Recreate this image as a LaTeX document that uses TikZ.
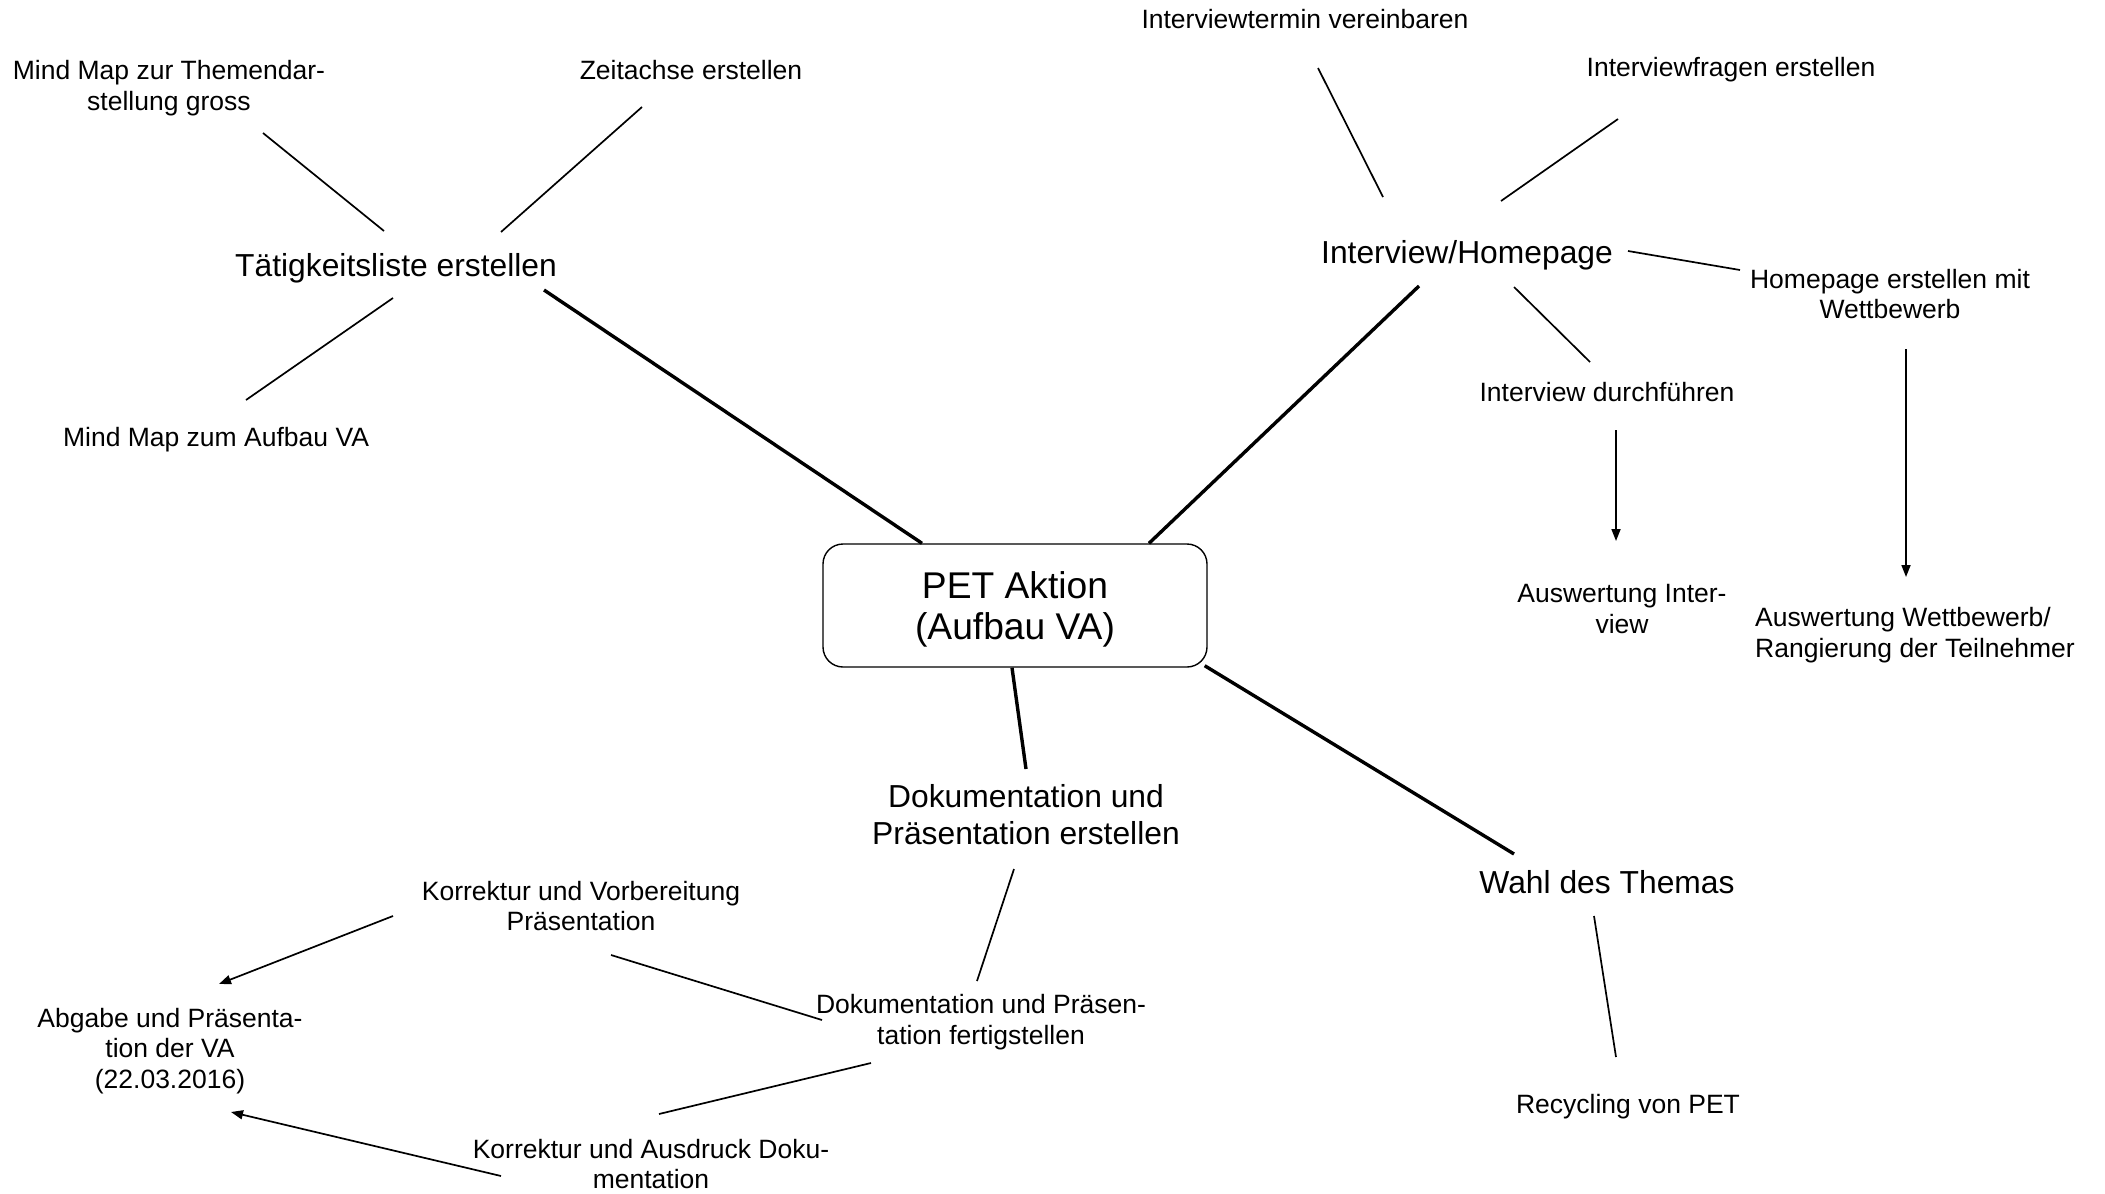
\documentclass[tikz,border=0pt]{standalone}
\usepackage{fontspec}
\setmainfont{Liberation Sans}
\usetikzlibrary{arrows.meta}
\begin{document}
\begin{tikzpicture}[x=0.5pt,y=-0.5pt,
  lbl/.style={align=center,font=\fontsize{13.25}{15.2}\selectfont,inner sep=0pt},
  mid/.style={align=center,font=\fontsize{15.9}{18.4}\selectfont,inner sep=0pt},
  twig/.style={line width=0.85pt},
  branch/.style={line width=1.7pt},
  arr/.style={twig,-{Triangle[length=6pt,width=4.5pt]}}
]
\useasboundingbox (0,0) rectangle (2105,1194);

% centre
\node[draw,rounded corners=10pt,line width=0.7pt,minimum width=192pt,minimum height=61.5pt,
      text depth=0pt,align=center,font=\fontsize{18.6}{20.3}\selectfont] (pet) at (1015,605.5) {PET Aktion\\(Aufbau VA)};

% main branches
\node[mid] (tat) at (396,268) {Tätigkeitsliste erstellen};
\node[mid] (ih) at (1467,255) {Interview/Homepage};
\node[mid] (dok) at (1026,815) {Dokumentation und\\Präsentation erstellen};
\node[mid] (wahl) at (1607,882) {Wahl des Themas};

% leaves
\node[lbl] (mm1) at (169,88) {Mind Map zur Themendar-\\stellung gross};
\node[lbl] (zeit) at (691,70) {Zeitachse erstellen};
\node[lbl] (mm2) at (216,440) {Mind Map zum Aufbau VA};
\node[lbl] (itv) at (1305,19) {Interviewtermin vereinbaren};
\node[lbl] (ifr) at (1731,70) {Interviewfragen erstellen};
\node[lbl] (hpe) at (1890,294) {Homepage erstellen mit\\Wettbewerb};
\node[lbl] (idf) at (1607,392) {Interview durchführen};
\node[lbl] (ai) at (1622,609) {Auswertung Inter-\\view};
\node[lbl,align=left] (aw) at (1915,635) {Auswertung Wettbewerb/\\Rangierung der Teilnehmer};
\node[lbl] (rec) at (1628,1107) {Recycling von PET};
\node[lbl] (kvp) at (581,906) {Korrektur und Vorbereitung\\Präsentation};
\node[lbl] (abg) at (170,1051) {Abgabe und Präsenta-\\tion der VA\\(22.03.2016)};
\node[lbl] (dpf) at (981,1022) {Dokumentation und Präsen-\\tation fertigstellen};
\node[lbl] (kad) at (651,1164) {Korrektur und Ausdruck Doku-\\mentation};

% thick branches
\draw[branch] ([shift={(148,22)}]tat.center) -- ([shift={(-93,0)}]pet.north);
\draw[branch] ([shift={(-48,31)}]ih.center) -- ([shift={(134,0)}]pet.north);
\draw[branch] ([shift={(-3,0)}]pet.south) -- ([shift={(0,-46)}]dok.center);
\draw[branch] ([shift={(-3,-2)}]pet.south east) -- ([shift={(-93,-28)}]wahl.center);

% thin connectors
\draw[twig] ([shift={(94,45)}]mm1.center) -- ([shift={(-12,-37)}]tat.center);
\draw[twig] ([shift={(-49,37)}]zeit.center) -- ([shift={(105,-36)}]tat.center);
\draw[twig] ([shift={(-3,30)}]tat.center) -- ([shift={(30,-40)}]mm2.center);
\draw[twig] ([shift={(13,49)}]itv.center) -- ([shift={(-84,-58)}]ih.center);
\draw[twig] ([shift={(-113,49)}]ifr.center) -- ([shift={(34,-54)}]ih.center);
\draw[twig] ([shift={(161,-4)}]ih.center) -- ([shift={(-150,-24)}]hpe.center);
\draw[twig] ([shift={(47,32)}]ih.center) -- ([shift={(-17,-30)}]idf.center);
\draw[arr] ([shift={(9,38)}]idf.center) -- ([shift={(-6,-68)}]ai.center);
\draw[arr] ([shift={(16,55)}]hpe.center) -- ([shift={(-9,-58)}]aw.center);
\draw[twig] ([shift={(-13,34)}]wahl.center) -- ([shift={(-12,-50)}]rec.center);
\draw[twig] ([shift={(-12,54)}]dok.center) -- ([shift={(-4,-41)}]dpf.center);
\draw[twig] ([shift={(30,49)}]kvp.center) -- ([shift={(-159,-2)}]dpf.center);
\draw[arr] ([shift={(-188,10)}]kvp.center) -- ([shift={(49,-67)}]abg.center);
\draw[twig] ([shift={(-110,41)}]dpf.center) -- ([shift={(8,-50)}]kad.center);
\draw[arr] ([shift={(-150,12)}]kad.center) -- ([shift={(61,61)}]abg.center);
\end{tikzpicture}
\end{document}
